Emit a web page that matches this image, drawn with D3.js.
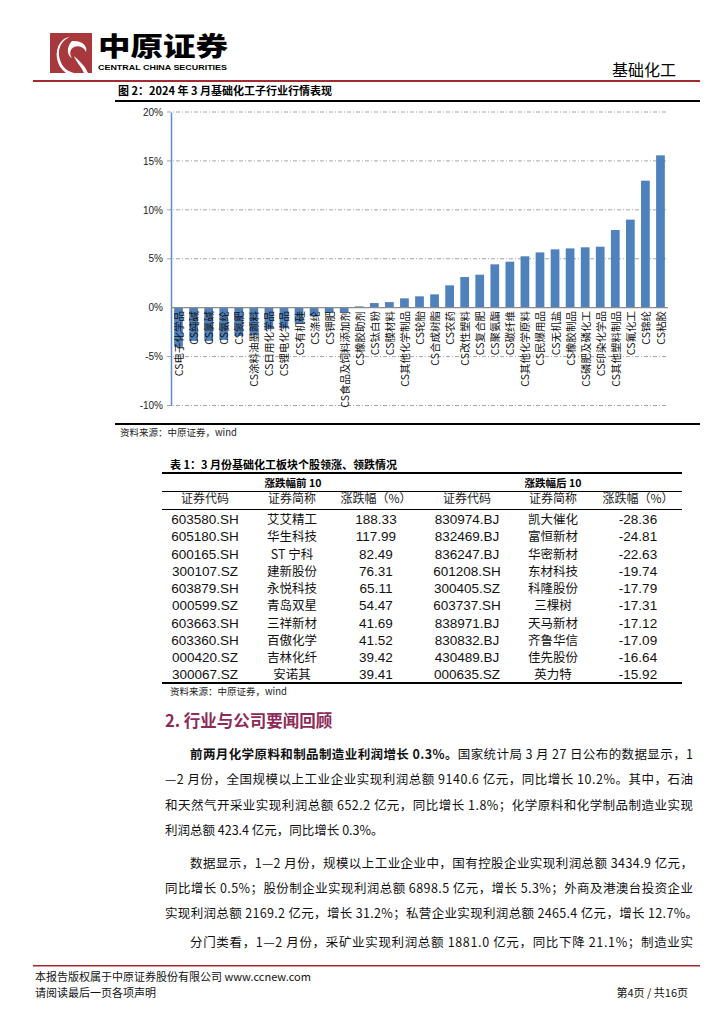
<!DOCTYPE html>
<html><head><meta charset="utf-8">
<script src="https://cdn.jsdelivr.net/npm/d3@7"></script>
<style>
body{margin:0;background:#fff;}
svg{display:block;}
text{font-family:"Liberation Sans","Noto Sans CJK SC",sans-serif;}
.cjk{font-family:"Noto Sans CJK SC",sans-serif;}
</style></head>
<body>
<script>
// ---------- data ----------
const categories = ["CS电子化学品","CS纯碱","CS氯碱","CS氨纶","CS氮肥","CS涂料油墨颜料","CS日用化学品","CS锂电化学品","CS有机硅","CS涤纶","CS钾肥","CS食品及饲料添加剂","CS橡胶助剂","CS钛白粉","CS膜材料","CS其他化学制品","CS轮胎","CS合成树脂","CS农药","CS改性塑料","CS复合肥","CS聚氨酯","CS碳纤维","CS其他化学原料","CS民爆用品","CS无机盐","CS橡胶制品","CS磷肥及磷化工","CS印染化学品","CS其他塑料制品","CS氟化工","CS锦纶","CS粘胶"];
const values = [-4.0,-3.4,-3.4,-3.3,-2.9,-2.8,-2.2,-2.1,-1.6,-0.9,-0.55,-0.5,0.13,0.47,0.57,0.95,1.16,1.36,2.28,3.13,3.37,4.43,4.7,5.25,5.65,5.96,6.06,6.17,6.23,7.94,9.0,12.98,15.57];
const yTicks = [-10,-5,0,5,10,15,20];

const topCodes = ["603580.SH","605180.SH","600165.SH","300107.SZ","603879.SH","000599.SZ","603663.SH","603360.SH","000420.SZ","300067.SZ"];
const topNames = ["艾艾精工","华生科技","ST 宁科","建新股份","永悦科技","青岛双星","三祥新材","百傲化学","吉林化纤","安诺其"];
const topPct = ["188.33","117.99","82.49","76.31","65.11","54.47","41.69","41.52","39.42","39.41"];
const botCodes = ["830974.BJ","832469.BJ","836247.BJ","601208.SH","300405.SZ","603737.SH","838971.BJ","830832.BJ","430489.BJ","000635.SZ"];
const botNames = ["凯大催化","富恒新材","华密新材","东材科技","科隆股份","三棵树","天马新材","齐鲁华信","佳先股份","英力特"];
const botPct = ["-28.36","-24.81","-22.63","-19.74","-17.79","-17.31","-17.12","-17.09","-16.64","-15.92"];

const W = 724, H = 1024;
const svg = d3.select("body").append("svg").attr("width", W).attr("height", H);
const red = "#a32a2f";

// ---------- header ----------
const logo = svg.append("g");
logo.append("rect").attr("x",50).attr("y",33).attr("width",42).attr("height",40).attr("fill","#a8383c");
logo.append("path").attr("d","M70,37 C58,42 56,55 63,66 C66,70 70,72 74,73 L66,73 C56,66 54,52 60,43 C63,39 66,37 70,37 Z").attr("fill","#fff");
logo.append("path").attr("d","M72,41 C82,40 88,46 86,52 C84,47 79,45 74,47 C70,49 69,54 72,58 C67,56 66,47 72,41 Z").attr("fill","#fff");
logo.append("path").attr("d","M74,56 C78,60 84,64 88,73 L84,73 C81,66 76,62 74,56 Z").attr("fill","#fff");
svg.append("text").attr("class","cjk").attr("x",98).attr("y",56).attr("font-size",26).attr("font-weight",900)
  .attr("textLength",130).attr("lengthAdjust","spacingAndGlyphs").text("中原证券");
svg.append("text").attr("x",98).attr("y",70).attr("font-size",7.5).attr("font-weight","bold")
  .attr("textLength",129).attr("lengthAdjust","spacingAndGlyphs").text("CENTRAL CHINA SECURITIES");
svg.append("text").attr("class","cjk").attr("x",676).attr("y",76).attr("text-anchor","end").attr("font-size",16).text("基础化工");
svg.append("rect").attr("x",33).attr("y",80).attr("width",667).attr("height",2).attr("fill",red);

// ---------- figure title ----------
svg.append("text").attr("class","cjk").attr("x",118).attr("y",95).attr("font-size",11).attr("font-weight","bold").text("图 2：2024 年 3 月基础化工子行业行情表现");
svg.append("rect").attr("x",115).attr("y",100).attr("width",585).attr("height",2).attr("fill","#000");

// ---------- chart ----------
const x = d3.scaleBand().domain(categories).range([171,668]).paddingInner(0.42).paddingOuter(0.21);
const y = d3.scaleLinear().domain([-10,20]).range([405.5,112]);

const grid = svg.append("g");
yTicks.filter(t => t !== 0).forEach(t => {
  grid.append("line").attr("x1",167).attr("x2",668).attr("y1",y(t)).attr("y2",y(t))
    .attr("stroke","#a6a6a6").attr("stroke-width",1).attr("stroke-dasharray","4,2,1,2");
});
const yAxis = d3.axisLeft(y).tickValues(yTicks).tickFormat(d => d + "%").tickSize(0).tickPadding(8);
const ya = svg.append("g").attr("transform","translate(171,0)").call(yAxis);
ya.select(".domain").attr("stroke","#5b8ccb").attr("stroke-width",1.5);
ya.selectAll("text").attr("font-size",10).attr("fill","#222").attr("font-family","Liberation Sans");

svg.append("g").selectAll("rect").data(values).join("rect")
  .attr("x",(d,i)=>x(categories[i])).attr("width",x.bandwidth())
  .attr("y",d=>y(Math.max(0,d))).attr("height",d=>Math.abs(y(d)-y(0)))
  .attr("fill","#4f81bd");

svg.append("line").attr("x1",171).attr("x2",668).attr("y1",y(0)).attr("y2",y(0)).attr("stroke","#8c8c8c").attr("stroke-width",1.2);

svg.append("g").selectAll("text").data(categories).join("text")
  .attr("class","cjk")
  .attr("transform",d=>`translate(${x(d)+x.bandwidth()/2},311) rotate(-90)`)
  .attr("text-anchor","end").attr("dominant-baseline","central")
  .attr("font-size",10.5).attr("fill","#111").text(d=>d);

svg.append("rect").attr("x",115).attr("y",423).attr("width",585).attr("height",2).attr("fill","#000");
svg.append("text").attr("class","cjk").attr("x",120).attr("y",436).attr("font-size",9.5).attr("fill","#222").text("资料来源：中原证券，wind");

// ---------- table ----------
svg.append("text").attr("class","cjk").attr("x",170).attr("y",469).attr("font-size",11).attr("font-weight","bold").text("表 1：3 月份基础化工板块个股领涨、领跌情况");
svg.append("rect").attr("x",162).attr("y",472).attr("width",520).attr("height",2).attr("fill","#000");
svg.append("text").attr("class","cjk").attr("x",293).attr("y",487).attr("text-anchor","middle").attr("font-size",10.5).attr("font-weight","bold").text("涨跌幅前 10");
svg.append("text").attr("class","cjk").attr("x",553).attr("y",487).attr("text-anchor","middle").attr("font-size",10.5).attr("font-weight","bold").text("涨跌幅后 10");
svg.append("line").attr("x1",162).attr("x2",682).attr("y1",491.5).attr("y2",491.5).attr("stroke","#000").attr("stroke-width",1);
const heads = ["证券代码","证券简称","涨跌幅（%）"];
const colX = [205,292,376,467,553,638];
colX.forEach((cx,i)=>{
  svg.append("text").attr("class","cjk").attr("x",cx).attr("y",503).attr("text-anchor","middle").attr("font-size",12).attr("fill","#222").text(heads[i%3]);
});
svg.append("line").attr("x1",162).attr("x2",682).attr("y1",509.5).attr("y2",509.5).attr("stroke","#000").attr("stroke-width",1);
const rowY = i => 524 + i*17.25;
const cols = [topCodes, topNames, topPct, botCodes, botNames, botPct];
cols.forEach((arr,c)=>{
  svg.append("g").selectAll("text").data(arr).join("text")
    .attr("class", c%3===1 ? "cjk" : null)
    .attr("x",colX[c]).attr("y",(d,i)=>rowY(i))
    .attr("text-anchor","middle").attr("font-size", c%3===1 ? 12.5 : 13.5)
    .attr("fill","#111").text(d=>d);
});
svg.append("rect").attr("x",162).attr("y",682).attr("width",520).attr("height",2).attr("fill","#000");
svg.append("text").attr("class","cjk").attr("x",170).attr("y",695).attr("font-size",9.5).attr("fill","#222").text("资料来源：中原证券，wind");

// ---------- section text ----------
svg.append("text").attr("class","cjk").attr("x",165).attr("y",727).attr("font-size",16.5).attr("font-weight","bold").attr("fill","#8e2a58").text("2. 行业与公司要闻回顾");

const fs = 12.5;
function line(xp, yp, len, parts){
  const t = svg.append("text").attr("class","cjk").attr("x",xp).attr("y",yp).attr("font-size",fs).attr("fill","#111");
  if(len) t.attr("textLength",len).attr("lengthAdjust","spacing");
  parts.forEach(p=>{ t.append("tspan").attr("font-weight",p[1]?"bold":null).text(p[0]); });
}
line(190,759,503,[["前两月化学原料和制品制造业利润增长 0.3%。",true],["国家统计局 3 月 27 日公布的数据显示，1",false]]);
line(165,784,528,[["—2 月份，全国规模以上工业企业实现利润总额 9140.6 亿元，同比增长 10.2%。其中，石油",false]]);
line(165,810,528,[["和天然气开采业实现利润总额 652.2 亿元，同比增长 1.8%；化学原料和化学制品制造业实现",false]]);
line(165,835,null,[["利润总额 423.4 亿元，同比增长 0.3%。",false]]);
line(190,868,503,[["数据显示，1—2 月份，规模以上工业企业中，国有控股企业实现利润总额 3434.9 亿元，",false]]);
line(165,893,528,[["同比增长 0.5%；股份制企业实现利润总额 6898.5 亿元，增长 5.3%；外商及港澳台投资企业",false]]);
line(165,918,533,[["实现利润总额 2169.2 亿元，增长 31.2%；私营企业实现利润总额 2465.4 亿元，增长 12.7%。",false]]);
line(190,947,503,[["分门类看，1—2 月份，采矿业实现利润总额 1881.0 亿元，同比下降 21.1%；制造业实",false]]);

// ---------- footer ----------
svg.append("rect").attr("x",33).attr("y",965).attr("width",667).attr("height",1.5).attr("fill",red);
svg.append("text").attr("class","cjk").attr("x",35).attr("y",981).attr("font-size",11).attr("fill","#111").text("本报告版权属于中原证券股份有限公司 www.ccnew.com");
svg.append("text").attr("class","cjk").attr("x",35).attr("y",997).attr("font-size",11).attr("fill","#111").text("请阅读最后一页各项声明");
svg.append("text").attr("class","cjk").attr("x",688).attr("y",997).attr("text-anchor","end").attr("font-size",11).attr("fill","#111").text("第4页 / 共16页");
</script>
</body></html>
